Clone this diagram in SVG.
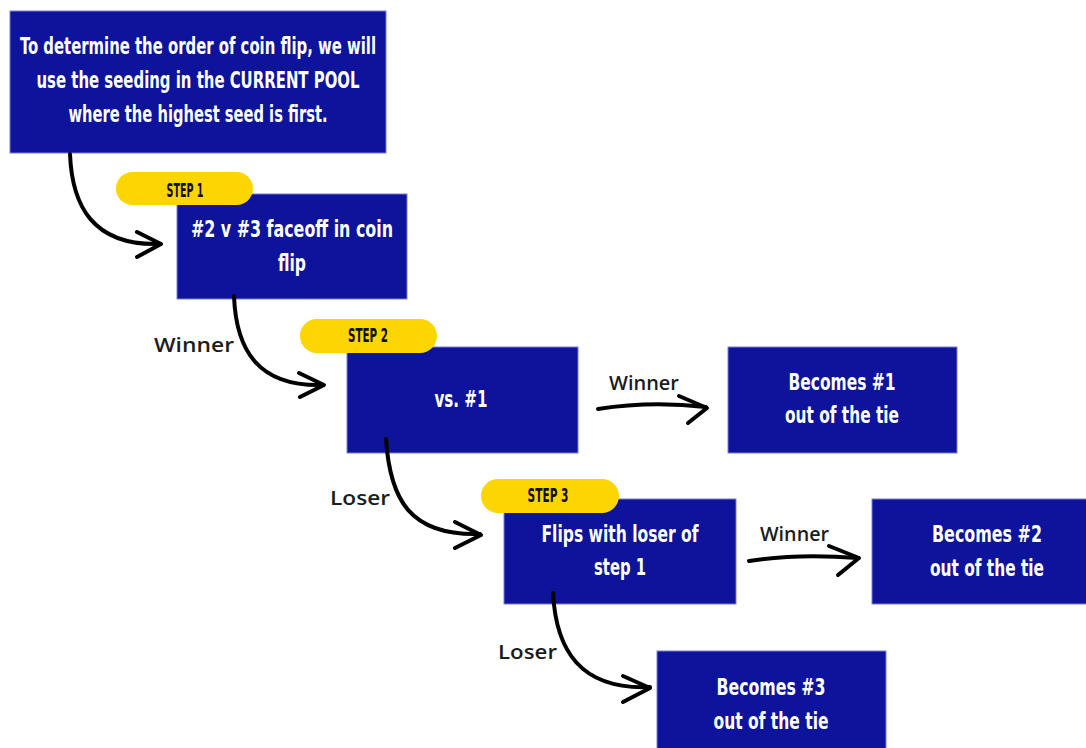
<svg xmlns="http://www.w3.org/2000/svg" width="1086" height="748" viewBox="0 0 1086 748">
<defs>
<style>
.box{fill:#0e139b;stroke:#7a7fd2;stroke-width:1}
.pill{fill:#fdd500}
.bt{fill:#ffffff;font-family:"DejaVu Sans Condensed","DejaVu Sans",sans-serif;font-stretch:condensed;font-weight:bold;font-size:23px;text-anchor:middle}
.st{fill:#111111;font-family:"DejaVu Sans Condensed","DejaVu Sans",sans-serif;font-stretch:condensed;font-weight:bold;font-size:20px;text-anchor:middle}
.lb{fill:#1c1c1c;font-family:"Open Sans","Noto Sans",sans-serif;font-weight:600;font-size:19px}
.cn{fill:none;stroke:#000000;stroke-width:4;stroke-linecap:round;stroke-linejoin:round}
</style>
</defs>
<rect width="1086" height="748" fill="#ffffff"/>
<g id="intro">
<rect class="box" x="10" y="11" width="376" height="142"/>
<text class="bt" x="198" y="54" textLength="356" lengthAdjust="spacingAndGlyphs">To determine the order of coin flip, we will</text>
<text class="bt" x="198" y="88" textLength="323" lengthAdjust="spacingAndGlyphs">use the seeding in the CURRENT POOL</text>
<text class="bt" x="198" y="122" textLength="259" lengthAdjust="spacingAndGlyphs">where the highest seed is first.</text>
</g>
<g id="step1">
<rect class="box" x="177" y="194" width="230" height="105"/>
<rect class="pill" x="116" y="172" width="137" height="33" rx="16.5"/>
<text class="st" x="185" y="197" textLength="37" lengthAdjust="spacingAndGlyphs">STEP 1</text>
<text class="bt" x="292" y="237" textLength="202" lengthAdjust="spacingAndGlyphs">#2 v #3 faceoff in coin</text>
<text class="bt" x="292" y="271" textLength="28" lengthAdjust="spacingAndGlyphs">flip</text>
</g>
<g id="step2">
<rect class="box" x="347" y="347" width="231" height="106"/>
<rect class="pill" x="300" y="319" width="137" height="34" rx="17"/>
<text class="st" x="368" y="342" textLength="40" lengthAdjust="spacingAndGlyphs">STEP 2</text>
<text class="bt" x="461" y="407" textLength="53" lengthAdjust="spacingAndGlyphs">vs. #1</text>
</g>
<g id="becomes1">
<rect class="box" x="728" y="347" width="229" height="106"/>
<text class="bt" x="842" y="390" textLength="107" lengthAdjust="spacingAndGlyphs">Becomes #1</text>
<text class="bt" x="842" y="423" textLength="114" lengthAdjust="spacingAndGlyphs">out of the tie</text>
</g>
<g id="step3">
<rect class="box" x="504" y="499" width="232" height="105"/>
<rect class="pill" x="481" y="479" width="138" height="34" rx="17"/>
<text class="st" x="548" y="502" textLength="41" lengthAdjust="spacingAndGlyphs">STEP 3</text>
<text class="bt" x="620" y="542" textLength="157" lengthAdjust="spacingAndGlyphs">Flips with loser of</text>
<text class="bt" x="620" y="575" textLength="52" lengthAdjust="spacingAndGlyphs">step 1</text>
</g>
<g id="becomes2">
<rect class="box" x="872" y="499" width="230" height="105"/>
<text class="bt" x="987" y="542" textLength="110" lengthAdjust="spacingAndGlyphs">Becomes #2</text>
<text class="bt" x="987" y="576" textLength="114" lengthAdjust="spacingAndGlyphs">out of the tie</text>
</g>
<g id="becomes3">
<rect class="box" x="657" y="651" width="229" height="110"/>
<text class="bt" x="771" y="695" textLength="109" lengthAdjust="spacingAndGlyphs">Becomes #3</text>
<text class="bt" x="771" y="729" textLength="115" lengthAdjust="spacingAndGlyphs">out of the tie</text>
</g>
<g id="connectors">
<path class="cn" d="M70,154 C72,205 92,246 160,244"/>
<path class="cn" d="M137,232 L161,244 L137,257"/>
<path class="cn" d="M234,296 C236,350 258,387 323,385"/>
<path class="cn" d="M299,373 L324,385 L300,397"/>
<path class="cn" d="M386,439 C390,500 410,536 480,534"/>
<path class="cn" d="M455,522 L481,535 L455,548"/>
<path class="cn" d="M553,593 C556,650 580,690 650,687"/>
<path class="cn" d="M623,676 L650,688 L623,702"/>
<path class="cn" d="M598,409 C630,404 670,403 706,407"/>
<path class="cn" d="M679,396 L707,408 L688,423"/>
<path class="cn" d="M749,561 C780,556 820,555 858,558"/>
<path class="cn" d="M829,546 L859,558 L838,575"/>
</g>
<g id="labels">
<text class="lb" x="154" y="352" textLength="80" lengthAdjust="spacingAndGlyphs">Winner</text>
<text class="lb" x="609" y="390" font-size="17" textLength="70" lengthAdjust="spacingAndGlyphs">Winner</text>
<text class="lb" x="330" y="505" textLength="60" lengthAdjust="spacingAndGlyphs">Loser</text>
<text class="lb" x="760" y="541" font-size="17" textLength="69" lengthAdjust="spacingAndGlyphs">Winner</text>
<text class="lb" x="498" y="659" textLength="59" lengthAdjust="spacingAndGlyphs">Loser</text>
</g>
</svg>
